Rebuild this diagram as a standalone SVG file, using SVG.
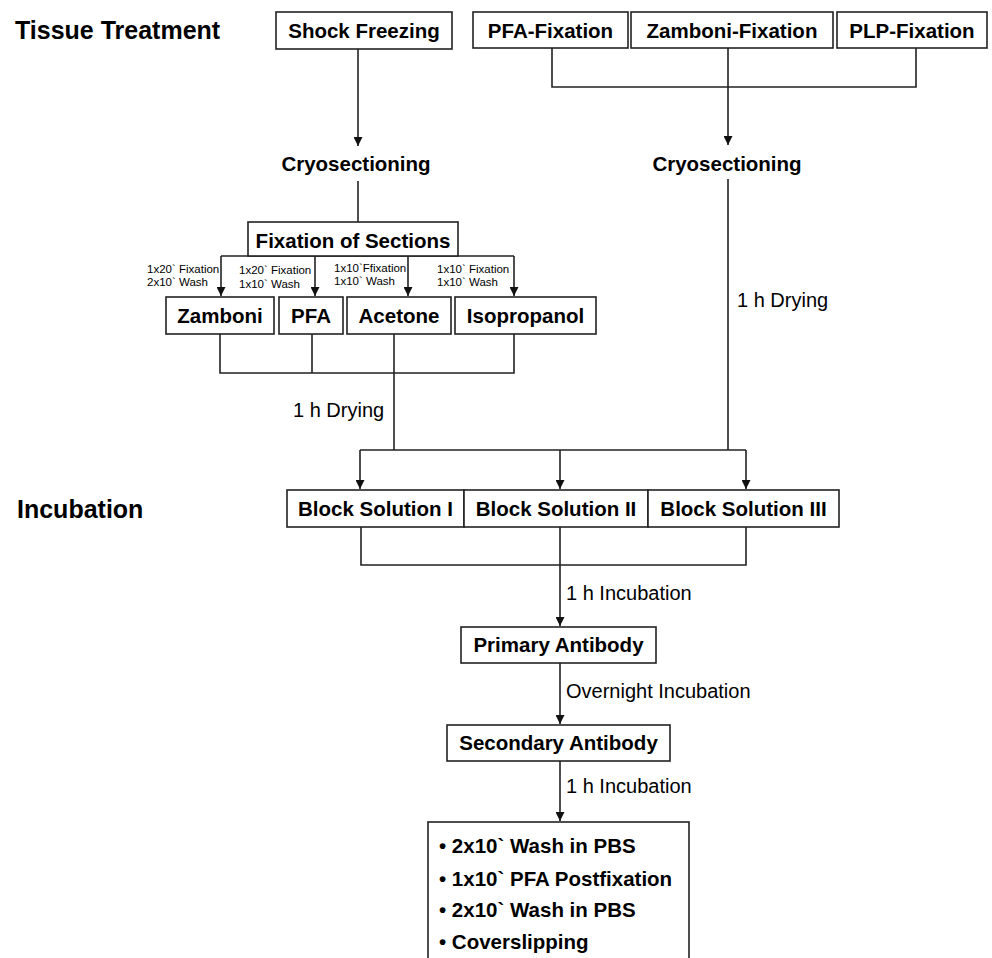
<svg xmlns="http://www.w3.org/2000/svg" width="992" height="958" viewBox="0 0 992 958">
<style>
.box{fill:#fff;stroke:#222;stroke-width:1.6}
.ln{fill:none;stroke:#222;stroke-width:1.6}
.b{font-family:"Liberation Sans",Arial,sans-serif;font-weight:bold;font-size:20.5px;fill:#000}
.h{font-family:"Liberation Sans",Arial,sans-serif;font-weight:bold;font-size:25px;fill:#000}
.r{font-family:"Liberation Sans",Arial,sans-serif;font-size:20px;fill:#000}
.s{font-family:"Liberation Sans",Arial,sans-serif;font-size:11.5px;fill:#000}
.c{text-anchor:middle}
</style>
<defs>
<marker id="arr" viewBox="0 0 10 10" markerWidth="9" markerHeight="9" refX="10" refY="5" orient="auto" markerUnits="userSpaceOnUse">
<path d="M0,0 L10,5 L0,10 z" fill="#111"/>
</marker>
</defs>

<g id="headings">
<text class="h" x="15" y="39">Tissue Treatment</text>
<text class="h" x="17" y="518">Incubation</text>
</g>

<g id="connectors">
<!-- shock freezing branch -->
<line class="ln" x1="358" y1="49" x2="358" y2="146" marker-end="url(#arr)"/>
<line class="ln" x1="358" y1="181" x2="358" y2="222"/>
<!-- fixation branch top -->
<polyline class="ln" points="552,48 552,87 916,87 916,48"/>
<line class="ln" x1="728" y1="48" x2="728" y2="145" marker-end="url(#arr)"/>
<line class="ln" x1="728" y1="179" x2="728" y2="450"/>
<!-- fixation of sections -->
<line class="ln" x1="221" y1="256" x2="514" y2="256"/>
<line class="ln" x1="221" y1="256" x2="221" y2="296" marker-end="url(#arr)"/>
<line class="ln" x1="315" y1="256" x2="315" y2="296" marker-end="url(#arr)"/>
<line class="ln" x1="408" y1="256" x2="408" y2="296" marker-end="url(#arr)"/>
<line class="ln" x1="514" y1="256" x2="514" y2="296" marker-end="url(#arr)"/>
<!-- below fixation boxes -->
<polyline class="ln" points="220,334 220,373 514,373 514,334"/>
<line class="ln" x1="312" y1="334" x2="312" y2="373"/>
<line class="ln" x1="394" y1="334" x2="394" y2="450"/>
<!-- to block solutions -->
<line class="ln" x1="360" y1="450" x2="746" y2="450"/>
<line class="ln" x1="360" y1="450" x2="360" y2="489" marker-end="url(#arr)"/>
<line class="ln" x1="560" y1="450" x2="560" y2="489" marker-end="url(#arr)"/>
<line class="ln" x1="746" y1="450" x2="746" y2="489" marker-end="url(#arr)"/>
<!-- below block solutions -->
<polyline class="ln" points="361,527 361,565 746,565 746,527"/>
<line class="ln" x1="560" y1="527" x2="560" y2="626" marker-end="url(#arr)"/>
<line class="ln" x1="560" y1="663" x2="560" y2="724" marker-end="url(#arr)"/>
<line class="ln" x1="560" y1="761" x2="560" y2="821" marker-end="url(#arr)"/>
<!-- connector labels -->
<text class="s" x="147" y="272.5">1x20` Fixation</text>
<text class="s" x="147" y="286">2x10` Wash</text>
<text class="s" x="239" y="274">1x20` Fixation</text>
<text class="s" x="239" y="287.5">1x10` Wash</text>
<text class="s" x="334" y="271.5">1x10`Ffixation</text>
<text class="s" x="334" y="285">1x10` Wash</text>
<text class="s" x="437" y="272.5">1x10` Fixation</text>
<text class="s" x="437" y="286">1x10` Wash</text>
<text class="r" x="293" y="417">1 h Drying</text>
<text class="r" x="737" y="307">1 h Drying</text>
<text class="r" x="566" y="600">1 h Incubation</text>
<text class="r" x="566" y="698">Overnight Incubation</text>
<text class="r" x="566" y="793">1 h Incubation</text>
</g>

<g id="shock-freezing"><rect class="box" x="276" y="12" width="176" height="37"/><text class="b c" x="364" y="38">Shock Freezing</text></g>
<g id="pfa-fixation"><rect class="box" x="473" y="12" width="155" height="36"/><text class="b c" x="550.5" y="38">PFA-Fixation</text></g>
<g id="zamboni-fixation"><rect class="box" x="631" y="12" width="202" height="36"/><text class="b c" x="732" y="38">Zamboni-Fixation</text></g>
<g id="plp-fixation"><rect class="box" x="837" y="12" width="150" height="36"/><text class="b c" x="912" y="38">PLP-Fixation</text></g>

<g id="cryosectioning-1"><text class="b c" x="356" y="171">Cryosectioning</text></g>
<g id="cryosectioning-2"><text class="b c" x="727" y="171">Cryosectioning</text></g>

<g id="fixation-of-sections"><rect class="box" x="248" y="222" width="210" height="34"/><text class="b c" x="353" y="248">Fixation of Sections</text></g>

<g id="zamboni"><rect class="box" x="166" y="297" width="108" height="37"/><text class="b c" x="220" y="323">Zamboni</text></g>
<g id="pfa"><rect class="box" x="279" y="297" width="64" height="37"/><text class="b c" x="311" y="323">PFA</text></g>
<g id="acetone"><rect class="box" x="347" y="297" width="104" height="37"/><text class="b c" x="399" y="323">Acetone</text></g>
<g id="isopropanol"><rect class="box" x="455" y="297" width="141" height="37"/><text class="b c" x="525.5" y="323">Isopropanol</text></g>

<g id="block-solution-1"><rect class="box" x="287" y="490" width="177" height="37"/><text class="b c" x="375.5" y="516">Block Solution I</text></g>
<g id="block-solution-2"><rect class="box" x="464" y="490" width="184" height="37"/><text class="b c" x="556" y="516">Block Solution II</text></g>
<g id="block-solution-3"><rect class="box" x="648" y="490" width="191" height="37"/><text class="b c" x="743.5" y="516">Block Solution III</text></g>

<g id="primary-antibody"><rect class="box" x="461" y="627" width="195" height="36"/><text class="b c" x="558.5" y="652">Primary Antibody</text></g>
<g id="secondary-antibody"><rect class="box" x="447" y="725" width="223" height="36"/><text class="b c" x="558.5" y="750">Secondary Antibody</text></g>

<g id="final-steps"><rect class="box" x="428" y="822" width="261" height="150"/>
<text class="b" x="439" y="853">• 2x10` Wash in PBS</text>
<text class="b" x="439" y="885.5">• 1x10` PFA Postfixation</text>
<text class="b" x="439" y="917">• 2x10` Wash in PBS</text>
<text class="b" x="439" y="949">• Coverslipping</text>
</g>
</svg>
